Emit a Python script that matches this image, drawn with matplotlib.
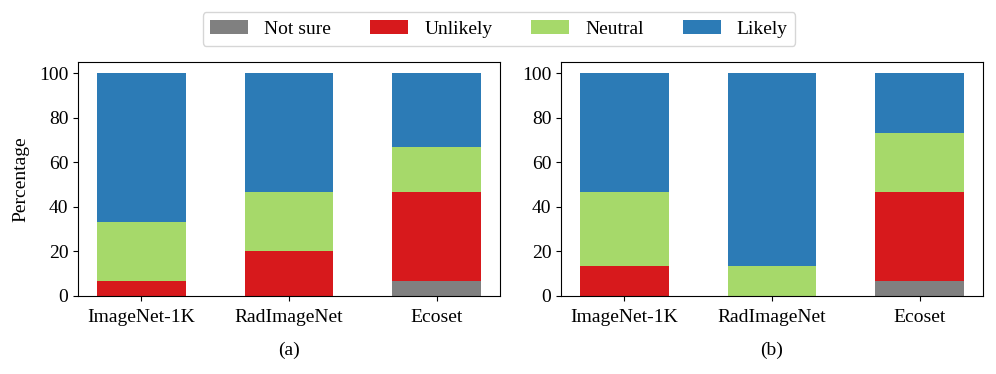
import matplotlib
matplotlib.use("Agg")
import matplotlib.pyplot as plt
import numpy as np

plt.rcParams['font.family'] = ['Liberation Serif', 'DejaVu Serif']
plt.rcParams['font.size'] = 14

categories = ["ImageNet-1K", "RadImageNet", "Ecoset"]
series_names = ["Not sure", "Unlikely", "Neutral", "Likely"]
colors = ["#808080", "#d7191c", "#a6d96a", "#2c7bb6"]

# Panel (a)
a_not_sure = [0.0, 0.0, 6.67]
a_unlikely = [6.67, 20.0, 40.0]
a_neutral = [26.67, 26.67, 20.0]
a_likely = [66.67, 53.33, 33.33]

# Panel (b)
b_not_sure = [0.0, 0.0, 6.67]
b_unlikely = [13.33, 0.0, 40.0]
b_neutral = [33.33, 13.33, 26.67]
b_likely = [53.33, 86.67, 26.67]

W, H = 996, 374
fig = plt.figure(figsize=(W / 100, H / 100), dpi=100)
ax1 = fig.add_axes([78 / W, (H - 296) / H, 422 / W, 234 / H])
ax2 = fig.add_axes([561 / W, (H - 296) / H, 422 / W, 234 / H])

def draw(ax, data, label):
    x = np.arange(len(categories))
    bottom = np.zeros(len(categories))
    handles = []
    for vals, c, name in zip(data, colors, series_names):
        vals = np.array(vals)
        h = ax.bar(x, vals, 0.6, bottom=bottom, color=c, label=name)
        handles.append(h)
        bottom += vals
    ax.set_xticks(x)
    ax.set_xticklabels(categories)
    ax.tick_params(axis='x', pad=5.5)
    ax.set_yticks([0, 20, 40, 60, 80, 100])
    ax.set_xlabel(label, labelpad=12)
    return handles

handles = draw(ax1, [a_not_sure, a_unlikely, a_neutral, a_likely], "(a)")
draw(ax2, [b_not_sure, b_unlikely, b_neutral, b_likely], "(b)")
ax1.set_ylabel("Percentage", labelpad=7)

fig.legend(handles, series_names, ncol=4, loc="center",
           bbox_to_anchor=(499 / W, 1 - 29 / H), handlelength=1.95,
           handletextpad=0.83, columnspacing=2.0, frameon=True,
           edgecolor="#cccccc", fancybox=True)

fig.savefig("out.png", dpi=100)
